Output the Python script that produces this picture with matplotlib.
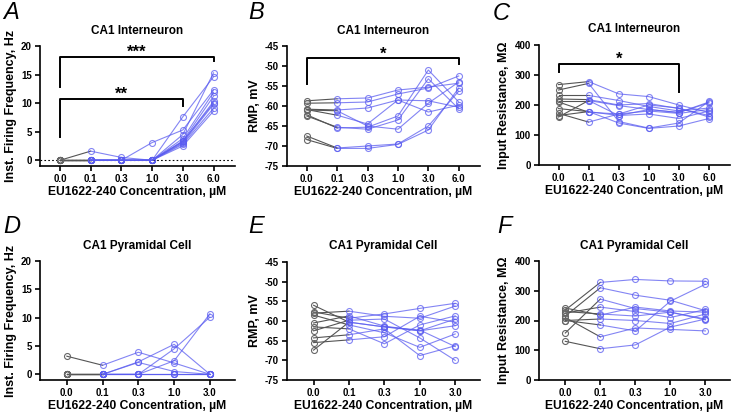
import matplotlib.pyplot as plt

plt.rcParams['font.family'] = ['Liberation Sans', 'DejaVu Sans']
plt.rcParams['font.weight'] = 'bold'

# concentrations (uM)
conc_in = ['0.0', '0.1', '0.3', '1.0', '3.0', '6.0']
conc_py = ['0.0', '0.1', '0.3', '1.0', '3.0']

# CA1 interneuron, one list per cell
freq_in = [
    [0, 1.6, 0.5, 0, 3.3, 10.0],
    [0, 0, 0, 3.1, 5.3, 12.3],
    [0, 0, 0, 0, 7.6, 14.6],
    [0, 0, 0, 0, 4.5, 15.3],
    [0, 0, 0, 0, 3.8, 11.9],
    [0, 0, 0, 0, 3.4, 11.2],
    [0, 0, 0, 0, 3.2, 10.3],
    [0, 0, 0, 0, 3.0, 9.8],
    [0, 0, 0, 0, 2.8, 9.1],
    [0, 0, 0, 0, 2.5, 8.6],
]

rmp_in = [
    [-58.7, -58.2, -58.0, -56.0, -55.3, -54.3],
    [-59.3, -59.2, -59.0, -57.0, -55.5, -52.5],
    [-60.8, -61.0, -60.5, -58.5, -58.7, -60.3],
    [-60.9, -62.3, -64.5, -58.5, -61.5, -59.8],
    [-62.2, -65.5, -65.3, -62.5, -51.0, -59.0],
    [-62.5, -65.3, -65.8, -63.5, -53.2, -60.7],
    [-67.5, -70.5, -70.0, -69.5, -65.0, -56.3],
    [-68.4, -70.6, -70.6, -69.6, -66.0, -55.5],
    [-61.0, -61.2, -65.0, -65.8, -59.3, -54.0],
]

rin_in = [
    [268, 278, 237, 228, 200, 175],
    [250, 272, 145, 123, 140, 212],
    [232, 232, 215, 195, 180, 190],
    [220, 218, 200, 205, 188, 165],
    [215, 215, 198, 185, 175, 207],
    [210, 176, 170, 180, 172, 185],
    [188, 178, 165, 170, 155, 180],
    [172, 143, 170, 200, 190, 160],
    [165, 178, 140, 122, 130, 155],
    [160, 215, 165, 185, 175, 210],
]

# CA1 pyramidal cell
freq_py = [
    [3.2, 1.6, 3.9, 2.0, 0],
    [0, 0, 2.2, 5.3, 0],
    [0, 0, 2.1, 0.5, 0],
    [0, 0, 0, 4.5, 10.1],
    [0, 0, 0, 2.4, 10.7],
    [0, 0, 0, 0, 0],
    [0, 0, 0, 0, 0],
    [0, 0, 0, 0, 0],
]

rmp_py = [
    [-56.0, -60.3, -61.5, -62.3, -66.5],
    [-57.7, -59.3, -58.2, -56.8, -55.5],
    [-58.0, -57.5, -58.8, -59.3, -56.2],
    [-58.5, -61.0, -63.0, -66.7, -63.3],
    [-60.5, -58.7, -61.3, -62.5, -59.5],
    [-61.5, -62.0, -65.8, -61.0, -58.7],
    [-62.5, -59.8, -59.5, -64.3, -70.0],
    [-64.3, -63.5, -62.0, -68.8, -66.3],
    [-65.5, -64.8, -64.0, -58.8, -60.3],
    [-67.4, -60.3, -61.5, -62.5, -61.2],
]

rin_py = [
    [242, 218, 245, 232, 228],
    [235, 328, 338, 333, 332],
    [230, 222, 215, 228, 205],
    [225, 245, 230, 210, 237],
    [215, 310, 285, 268, 233],
    [200, 205, 200, 190, 222],
    [200, 185, 165, 265, 322],
    [158, 272, 240, 228, 202],
    [130, 105, 118, 178, 205],
    [210, 145, 175, 170, 165],
]

BLUE = '#5a5cf0'
GRAY = '#555555'
W, H = 740, 416


def px(l, t, r, b):
    return [l / W, 1 - b / H, (r - l) / W, (b - t) / H]


def panel(ax, labels, cells, ylim, yticks, ylabel, title, xlim):
    x = list(range(len(labels)))
    for c in cells:
        ax.plot(x[1:], c[1:], color=BLUE, lw=0.8, alpha=0.75,
                marker='o', mfc='none', mec=BLUE, ms=4.3, mew=0.8, zorder=3)
        ax.plot(x[:2], c[:2], color=GRAY, lw=0.8, zorder=2)
        ax.plot(x[0], c[0], marker='o', mfc='none', mec='#666666', ms=4.3, mew=0.8, zorder=4)
    ax.set_xticks(x)
    ax.set_xticklabels(labels, fontsize=7, fontweight='bold')
    ax.set_yticks(yticks)
    ax.set_yticklabels([str(v) for v in yticks], fontsize=7, fontweight='bold')
    ax.set_xlim(*xlim)
    ax.set_ylim(*ylim)
    for s in ['top', 'right']:
        ax.spines[s].set_visible(False)
    for s in ['left', 'bottom']:
        ax.spines[s].set_linewidth(1.2)
    ax.tick_params(width=1.2, length=3.5, pad=2.4)
    ax.set_ylabel(ylabel, fontsize=9, fontweight='bold', labelpad=3)
    ax.set_xlabel('EU1622-240 Concentration, µM', fontsize=8.7, fontweight='bold', labelpad=1.4)
    ax.set_title(title, fontsize=8.5, fontweight='bold', pad=9)


def bracket(ax, x0, x1, y, yl, yr, label):
    ax.plot([x0, x0, x1, x1], [yl, y, y, yr], color='black', lw=1.4, clip_on=False)
    ax.text((x0 + x1) / 2, y, label, ha='center', va='baseline', fontsize=12, fontweight='bold')


fig = plt.figure(figsize=(7.4, 4.16), dpi=100)

axA = fig.add_axes(px(40, 46, 235, 166))
panel(axA, conc_in, freq_in, (-1, 20), [0, 5, 10, 15, 20],
      'Inst. Firing Frequency, Hz', 'CA1 Interneuron', (-0.65, 5.7))
axA.axhline(0, color='black', lw=0.8, ls=(0, (1.5, 2)), zorder=1)
bracket(axA, 0, 5, 18.1, 12.8, 17.3, '***')
bracket(axA, 0, 4, 10.8, 4.1, 9.5, '**')

axB = fig.add_axes(px(287, 46, 480, 166))
panel(axB, conc_in, rmp_in, (-75, -45), [-75, -70, -65, -60, -55, -50, -45],
      'RMP, mV', 'CA1 Interneuron', (-0.65, 5.7))
bracket(axB, 0, 5, -48.1, -54.5, -49.5, '*')

axC = fig.add_axes(px(539, 45, 730, 165))
panel(axC, conc_in, rin_in, (0, 400), [0, 100, 200, 300, 400],
      'Input Resistance, MΩ', 'CA1 Interneuron', (-0.65, 5.7))
bracket(axC, 0, 4, 338, 310, 244, '*')

axD = fig.add_axes(px(40, 261, 235, 380))
panel(axD, conc_py, freq_py, (-1, 20), [0, 5, 10, 15, 20],
      'Inst. Firing Frequency, Hz', 'CA1 Pyramidal Cell', (-0.75, 4.7))

axE = fig.add_axes(px(287, 262, 480, 380))
panel(axE, conc_py, rmp_py, (-75, -45), [-75, -70, -65, -60, -55, -50, -45],
      'RMP, mV', 'CA1 Pyramidal Cell', (-0.75, 4.7))

axF = fig.add_axes(px(539, 261, 730, 380))
panel(axF, conc_py, rin_py, (0, 400), [0, 100, 200, 300, 400],
      'Input Resistance, MΩ', 'CA1 Pyramidal Cell', (-0.75, 4.7))

# panel letters
for letter, lx, ly in [('A', 3, 1), ('B', 248, 1), ('C', 493, 2),
                       ('D', 3, 215), ('E', 248, 215), ('F', 497, 215)]:
    fig.text(lx / W, 1 - ly / H, letter, fontsize=17, style='italic',
             fontweight='normal', va='top', ha='left')

fig.savefig('out.png', dpi=100)
